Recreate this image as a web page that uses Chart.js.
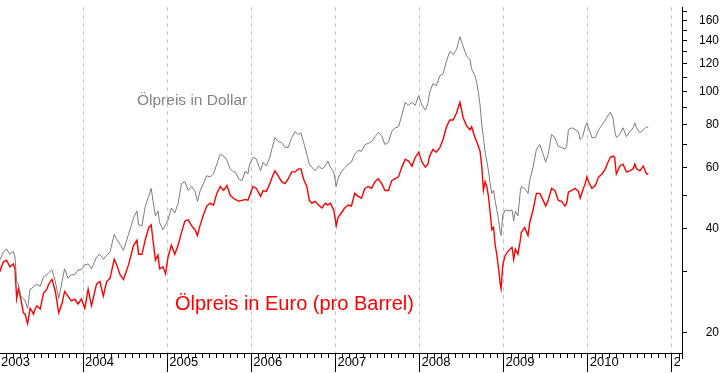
<!DOCTYPE html>
<html><head><meta charset="utf-8">
<script src="https://cdn.jsdelivr.net/npm/chart.js@4.4.1/dist/chart.umd.min.js"></script>
<style>html,body{margin:0;padding:0;background:#fff;overflow:hidden}#wrap{width:723px;height:373px;position:relative}</style>
</head><body><div id="wrap"><canvas id="c" width="723" height="373"></canvas></div>
<script>
// decimal years of the readings
const dates = [
2003.01,2003.05,2003.09,2003.13,2003.17,2003.19,2003.21,2003.23,2003.26,2003.29,2003.31,2003.34,2003.37,2003.39,2003.41,2003.43,2003.45,2003.49,2003.53,2003.57,2003.59,2003.63,2003.67,2003.71,2003.75,2003.78,2003.82,2003.86,2003.90,2003.94,2003.98,
2004.02,2004.06,2004.10,2004.16,2004.20,2004.24,2004.28,2004.32,2004.37,2004.40,2004.44,2004.48,2004.54,2004.60,2004.64,2004.66,2004.70,2004.74,2004.78,2004.81,2004.83,2004.86,2004.89,2004.91,2004.95,2004.98,
2005.01,2005.05,2005.09,2005.13,2005.17,2005.21,2005.25,2005.29,2005.33,2005.36,2005.39,2005.43,2005.47,2005.51,2005.55,2005.59,2005.63,2005.67,2005.71,2005.75,2005.79,2005.81,2005.85,2005.89,2005.93,2005.96,2005.98,
2006.02,2006.06,2006.11,2006.14,2006.18,2006.22,2006.25,2006.28,2006.32,2006.36,2006.40,2006.44,2006.48,2006.52,2006.56,2006.59,2006.62,2006.66,2006.69,2006.72,2006.76,2006.80,2006.84,2006.88,2006.91,2006.94,2006.98,
2007.01,2007.03,2007.07,2007.11,2007.15,2007.19,2007.23,2007.27,2007.31,2007.35,2007.39,2007.43,2007.47,2007.51,2007.55,2007.59,2007.63,2007.67,2007.71,2007.75,2007.79,2007.83,2007.87,2007.91,2007.95,2007.99,
2008.03,2008.07,2008.10,2008.12,2008.16,2008.20,2008.24,2008.28,2008.32,2008.36,2008.40,2008.44,2008.48,2008.52,2008.56,2008.60,2008.62,2008.66,2008.68,2008.70,2008.72,2008.74,2008.76,2008.78,2008.80,2008.82,2008.84,2008.86,2008.88,2008.90,2008.92,2008.94,2008.96,2008.97,2008.99,
2009.02,2009.06,2009.10,2009.12,2009.14,2009.17,2009.20,2009.21,2009.25,2009.29,2009.31,2009.35,2009.39,2009.43,2009.47,2009.50,2009.53,2009.57,2009.61,2009.65,2009.69,2009.73,2009.75,2009.77,2009.81,2009.85,2009.89,2009.91,2009.94,2009.97,2009.99,
2010.01,2010.05,2010.09,2010.13,2010.17,2010.21,2010.23,2010.27,2010.30,2010.32,2010.34,2010.38,2010.42,2010.46,2010.50,2010.54,2010.56,2010.58,2010.62,2010.66,2010.70,2010.72
];
// oil price in US dollar per barrel
const dollar = [
32.4,34.2,34.9,33.7,34.4,33.1,28.1,27.6,25.5,25.1,24.7,23.5,26.7,26.8,27.2,27.4,27.6,27.2,29.0,29.4,29.8,30.4,28.1,25.1,28.1,30.6,28.7,29.4,29.4,30.4,30.4,
31.4,31.6,30.6,33.1,33.7,32.6,33.5,34.2,38.5,37.2,36.0,34.6,38.5,43.0,45.0,41.0,40.8,46.5,49.6,52.3,48.3,43.5,45.0,41.6,39.7,41.0,
42.4,45.9,44.4,47.4,54.0,54.7,51.6,53.0,51.3,48.0,51.3,54.0,56.9,56.5,57.6,61.5,65.7,64.9,63.2,59.6,58.4,58.4,55.8,55.1,58.8,57.6,61.5,
64.4,63.6,58.8,62.3,60.7,64.4,68.8,73.4,71.5,71.1,68.8,68.8,73.4,76.4,74.9,75.9,71.5,65.7,61.5,60.3,58.8,60.7,59.6,60.7,62.8,60.3,58.4,
53.0,55.8,58.4,60.0,61.5,62.3,65.7,67.4,67.0,70.1,70.6,71.5,73.9,75.9,74.4,70.1,71.1,76.4,78.4,78.9,85.3,92.9,91.1,92.9,91.1,97.2,
91.1,88.2,92.3,99.2,105.2,103.8,110.8,112.3,122.2,130.5,128.0,132.2,143.9,134.8,126.3,123.8,116.0,110.8,105.9,99.2,91.1,79.9,73.4,66.6,62.8,58.8,54.0,50.6,51.6,48.0,45.3,42.4,39.0,38.2,43.8,
45.3,45.0,45.3,42.1,45.0,43.5,51.6,53.0,52.3,50.6,55.1,60.3,67.9,70.1,65.7,62.3,65.7,74.9,73.4,69.2,68.8,67.9,69.2,77.4,78.4,77.4,76.4,72.5,73.9,78.9,81.0,
78.4,73.4,73.4,77.4,79.9,82.6,84.2,87.0,83.7,77.4,73.4,74.9,78.4,73.9,76.4,78.4,81.0,78.4,75.9,77.4,78.9,78.4
];
// oil price in euro per barrel
const euro = [
30.0,32.0,32.4,31.0,31.6,30.6,25.1,26.8,25.0,22.8,22.6,21.2,23.5,23.1,22.6,23.4,23.9,23.4,26.0,26.7,27.6,28.5,26.3,22.8,24.3,26.3,25.5,24.7,25.0,24.2,25.0,
23.5,26.7,23.9,27.6,28.1,25.5,28.1,28.7,32.6,31.4,29.4,28.5,31.4,35.8,37.0,33.7,33.7,37.2,40.3,41.0,37.2,32.4,33.5,30.6,31.0,29.6,
33.1,35.8,33.7,35.8,39.0,42.1,42.4,40.8,39.7,38.2,40.8,43.8,46.5,47.4,46.8,50.6,53.0,51.6,53.3,49.9,49.0,48.6,48.0,48.3,48.6,48.3,49.9,
53.0,52.3,49.6,51.6,51.3,54.0,56.5,58.8,56.9,54.7,54.0,55.8,58.4,58.4,59.6,59.6,55.8,53.0,48.3,47.4,48.0,46.8,45.9,47.4,46.8,47.4,45.3,
40.8,43.0,44.4,45.9,46.8,46.5,50.6,49.6,49.0,52.3,53.0,52.3,54.7,55.8,54.0,51.6,51.6,55.1,55.8,56.5,60.3,63.6,62.8,60.7,64.4,66.6,
62.3,60.3,61.5,64.9,67.9,66.6,68.5,72.5,78.9,82.6,82.6,86.5,92.9,83.7,79.4,77.4,78.9,73.4,71.5,69.2,67.0,60.7,51.6,54.7,53.0,49.6,44.4,39.7,40.3,35.8,33.5,30.6,27.6,26.8,31.4,
33.5,34.6,35.3,32.6,34.9,33.7,37.2,39.0,40.3,38.2,41.6,45.3,50.6,50.6,48.3,46.5,48.3,52.3,51.6,48.3,48.0,46.5,47.4,51.0,51.6,52.3,51.3,49.0,51.6,54.0,56.5,
54.7,52.3,53.3,56.5,57.6,59.6,61.5,64.4,64.9,64.4,57.6,60.7,61.5,58.4,58.8,59.6,61.5,59.6,58.8,60.7,57.6,57.6
];
const yearTicks = [2003,2004,2005,2006,2007,2008,2009,2010,2011];
const priceTicks = [20,30,40,50,60,70,80,90,100,110,120,130,140,150,160,170];
const priceLabels = [20,40,60,80,100,120,140,160];

const FONT = '"Liberation Sans", Arial, sans-serif';

const axisMarks = {
  id: 'axisMarks',
  afterDraw(chart) {
    const ctx = chart.ctx, xs = chart.scales.x, a = chart.chartArea;
    ctx.save();
    // clip the year label that runs into the price axis
    ctx.fillStyle = '#fff';
    ctx.fillRect(a.right - 2, a.bottom + 1, chart.width - a.right + 2, chart.height - a.bottom);
    ctx.strokeStyle = '#000';
    ctx.lineWidth = 1;
    ctx.beginPath();
    for (let y = 2002; y <= 2011; y++) {
      for (let m = 1; m < 12; m++) {
        const px = Math.round(xs.getPixelForValue(y + m / 12)) + 0.5;
        if (px < a.left || px > a.right - 2) continue;
        ctx.moveTo(px, a.bottom);
        ctx.lineTo(px, a.bottom + 5);
      }
    }
    ctx.moveTo(Math.round(a.right) + 0.5, a.bottom);
    ctx.lineTo(Math.round(a.right) + 0.5, a.bottom + 6);
    ctx.stroke();
    ctx.restore();
  }
};

const notes = {
  id: 'notes',
  afterDatasetsDraw(chart) {
    const ctx = chart.ctx, a = chart.chartArea;
    ctx.save();
    ctx.textBaseline = 'alphabetic';
    ctx.textAlign = 'left';
    ctx.font = '15.5px ' + FONT;
    ctx.fillStyle = '#858585';
    ctx.fillText('Ölpreis in Dollar', a.left + 137, a.top + 98);
    ctx.font = '20px ' + FONT;
    ctx.fillStyle = '#ff0000';
    ctx.fillText('Ölpreis in Euro (pro Barrel)', a.left + 175, a.top + 303);
    ctx.restore();
  }
};

new Chart(document.getElementById('c'), {
  type: 'line',
  data: {
    datasets: [
      { label: 'Ölpreis in Dollar', data: dates.map((d, i) => ({ x: d, y: dollar[i] })),
        borderColor: '#7c7c7c', borderWidth: 1, pointRadius: 0, tension: 0, fill: false },
      { label: 'Ölpreis in Euro', data: dates.map((d, i) => ({ x: d, y: euro[i] })),
        borderColor: '#ff0000', borderWidth: 1.4, pointRadius: 0, tension: 0, fill: false }
    ]
  },
  options: {
    responsive: false, animation: false, devicePixelRatio: 1,
    layout: { padding: { left: 0, top: 0, right: 4, bottom: 0 } },
    plugins: { legend: { display: false }, tooltip: { enabled: false } },
    scales: {
      x: {
        type: 'linear', position: 'bottom', min: 2003.012, max: 2011.121,
        afterBuildTicks: s => { s.ticks = yearTicks.map(v => ({ value: v })); },
        afterFit: s => { s.height = 20; },
        grid: { drawOnChartArea: true, color: '#c4c4c4', lineWidth: 1,
                drawTicks: true, tickLength: 19, tickColor: '#000', tickBorderDash: [], tickWidth: 1 },
        border: { display: true, color: '#000', width: 1, dash: [4, 4] },
        ticks: { autoSkip: false, maxRotation: 0, minRotation: 0, align: 'start', labelOffset: 2, padding: -17,
                 color: '#000', font: { family: FONT, size: 13 }, callback: v => String(v) }
      },
      y: {
        type: 'logarithmic', position: 'right', min: 17.44, max: 175.3,
        afterBuildTicks: s => { s.ticks = priceTicks.map(v => ({ value: v })); },
        afterFit: s => { s.width = 37; },
        grid: { drawOnChartArea: false, drawTicks: true, tickLength: 5, tickColor: '#000' },
        border: { display: true, color: '#000', width: 1 },
        ticks: { autoSkip: false, crossAlign: 'far', padding: 0, color: '#000',
                 font: { family: FONT, size: 12 },
                 callback: v => priceLabels.includes(v) ? String(v) : '' }
      }
    }
  },
  plugins: [notes, axisMarks]
});
</script>
</body></html>
